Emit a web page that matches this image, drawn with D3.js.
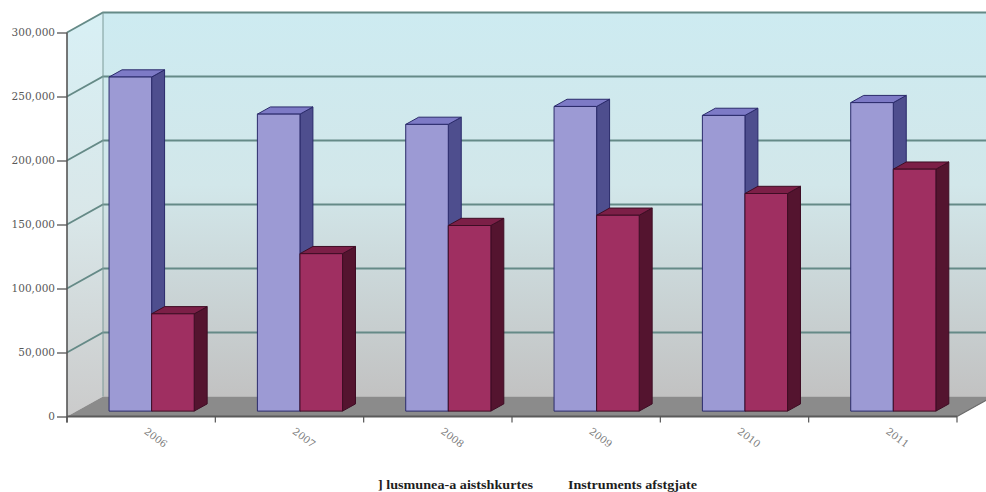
<!DOCTYPE html>
<html>
<head>
<meta charset="utf-8">
<script src="https://cdn.jsdelivr.net/npm/d3@7/dist/d3.min.js"></script>
<style>
  html, body { margin: 0; padding: 0; background: #ffffff; }
  svg { display: block; }
</style>
</head>
<body>
<svg id="chart" width="986" height="492"></svg>
<script>
// ---- data ----
const years = ["2006", "2007", "2008", "2009", "2010", "2011"];
const seriesNames = ["] lusmunea-a aistshkurtes", "Instruments afstgjate"];
const seriesA = [261000, 232000, 224000, 238000, 231000, 241000];
const seriesB = [76000, 123000, 145000, 153000, 170000, 189000];
const yTicks = [0, 50000, 100000, 150000, 200000, 250000, 300000];

// ---- layout ----
const svg = d3.select("#chart");
const plotLeft = 67, plotRight = 957, plotBottom = 416.5, plotTop = 32.5;
const depth = { dx: 36, dy: -20 };          // floor / wall depth offset
const barFront = 0.27, barBack = 0.63;        // bar depth band within the floor

const x0 = d3.scaleBand().domain(years).range([plotLeft, plotRight]).padding(0);
const bw = x0.bandwidth();
const x1 = d3.scaleBand().domain([0, 1]).range([bw * 0.218, bw * 0.792]).padding(0);
const y = d3.scaleLinear().domain([0, 300000]).range([plotBottom, plotTop]);

const defs = svg.append("defs");
const wallGrad = defs.append("linearGradient")
  .attr("id", "wallGrad").attr("x1", 0).attr("y1", 0).attr("x2", 0).attr("y2", 1);
wallGrad.append("stop").attr("offset", "0%").attr("stop-color", "#cdebf1");
wallGrad.append("stop").attr("offset", "45%").attr("stop-color", "#d2e7ea");
wallGrad.append("stop").attr("offset", "100%").attr("stop-color", "#c2c2c2");

const sideGrad = defs.append("linearGradient")
  .attr("id", "sideGrad").attr("x1", 0).attr("y1", 0).attr("x2", 0).attr("y2", 1);
sideGrad.append("stop").attr("offset", "0%").attr("stop-color", "#d8f0f5");
sideGrad.append("stop").attr("offset", "50%").attr("stop-color", "#d9e7e9");
sideGrad.append("stop").attr("offset", "100%").attr("stop-color", "#cbcbcb");

const pts = a => a.map(p => p.join(",")).join(" ");

// back wall
svg.append("polygon")
  .attr("points", pts([
    [plotLeft + depth.dx, y(300000) + depth.dy],
    [plotRight + depth.dx, y(300000) + depth.dy],
    [plotRight + depth.dx, y(0) + depth.dy],
    [plotLeft + depth.dx, y(0) + depth.dy]
  ]))
  .attr("fill", "url(#wallGrad)");

// side wall
svg.append("polygon")
  .attr("points", pts([
    [plotLeft, y(300000)],
    [plotLeft + depth.dx, y(300000) + depth.dy],
    [plotLeft + depth.dx, y(0) + depth.dy],
    [plotLeft, y(0)]
  ]))
  .attr("fill", "url(#sideGrad)");

// floor
svg.append("polygon")
  .attr("points", pts([
    [plotLeft, y(0)],
    [plotLeft + depth.dx, y(0) + depth.dy],
    [plotRight + depth.dx, y(0) + depth.dy],
    [plotRight, y(0)]
  ]))
  .attr("fill", "#8b8b8b");

// gridlines across side wall and back wall
svg.append("g").selectAll("polyline")
  .data(yTicks.filter(v => v > 0))
  .join("polyline")
  .attr("points", v => pts([
    [plotLeft, y(v)],
    [plotLeft + depth.dx, y(v) + depth.dy],
    [plotRight + depth.dx, y(v) + depth.dy]
  ]))
  .attr("fill", "none")
  .attr("stroke", "#658a87")
  .attr("stroke-width", 1.8);

// back wall left edge
svg.append("line")
  .attr("x1", plotLeft + depth.dx).attr("x2", plotLeft + depth.dx)
  .attr("y1", y(300000) + depth.dy).attr("y2", y(0) + depth.dy)
  .attr("stroke", "#7c9a98").attr("stroke-width", 1);

// ---- bars ----
const colors = [
  { front: "#9c9ad4", top: "#7d7ac6", side: "#4e4e8e", stroke: "#2a2a6a" },
  { front: "#9f2f61", top: "#7c1f47", side: "#54142f", stroke: "#3e0d24" }
];
const fdx = depth.dx * barFront, fdy = depth.dy * barFront;
const bdx = depth.dx * (barBack - barFront), bdy = depth.dy * (barBack - barFront);

const bars = [];
years.forEach((yr, i) => {
  [seriesA[i], seriesB[i]].forEach((v, s) => {
    bars.push({ year: yr, s, v });
  });
});

const barG = svg.append("g");
bars.forEach(d => {
  const c = colors[d.s];
  const xl = x0(d.year) + x1(d.s) + fdx;
  const xr = xl + x1.bandwidth();
  const yt = y(d.v) + fdy;
  const yb = y(0) + fdy;
  const g = barG.append("g").attr("stroke", c.stroke).attr("stroke-width", 1).attr("stroke-linejoin", "round");
  // side face
  g.append("polygon")
    .attr("points", pts([[xr, yt], [xr + bdx, yt + bdy], [xr + bdx, yb + bdy], [xr, yb]]))
    .attr("fill", c.side);
  // top face
  g.append("polygon")
    .attr("points", pts([[xl, yt], [xl + bdx, yt + bdy], [xr + bdx, yt + bdy], [xr, yt]]))
    .attr("fill", c.top);
  // front face
  g.append("rect")
    .attr("x", xl).attr("y", yt)
    .attr("width", xr - xl).attr("height", yb - yt)
    .attr("fill", c.front);
});

// ---- axes ----
const yAxis = d3.axisLeft(y)
  .tickValues(yTicks)
  .tickFormat(d3.format(","))
  .tickSize(10)
  .tickPadding(2);
const yg = svg.append("g").attr("transform", `translate(${plotLeft},0)`).call(yAxis);
yg.select(".domain").remove();
yg.selectAll(".tick line").attr("stroke", "#555").attr("stroke-width", 1.3);
yg.selectAll(".tick text")
  .attr("fill", "#595959")
  .style("font-family", "'DejaVu Serif', serif")
  .style("font-size", "10.5px");

// vertical axis line
svg.append("line")
  .attr("x1", plotLeft).attr("x2", plotLeft)
  .attr("y1", y(300000)).attr("y2", y(0) + 6)
  .attr("stroke", "#555").attr("stroke-width", 1.6);

// floor front edge and right edge
svg.append("line")
  .attr("x1", plotLeft).attr("x2", plotRight)
  .attr("y1", y(0)).attr("y2", y(0))
  .attr("stroke", "#5a5a5a").attr("stroke-width", 2);
svg.append("line")
  .attr("x1", plotRight).attr("x2", plotRight + depth.dx)
  .attr("y1", y(0)).attr("y2", y(0) + depth.dy)
  .attr("stroke", "#6a6a6a").attr("stroke-width", 1.2);

// category boundary ticks
const tickXs = years.map(d => x0(d)).concat([plotRight]);
svg.append("g").selectAll("line")
  .data(tickXs)
  .join("line")
  .attr("x1", d => d).attr("x2", d => d)
  .attr("y1", y(0)).attr("y2", y(0) + 6)
  .attr("stroke", "#555").attr("stroke-width", 1.2);

// category labels, slanted
svg.append("g").selectAll("text")
  .data(years)
  .join("text")
  .attr("transform", d => `translate(${x0(d) + bw / 2 + 14},${y(0) + 22}) rotate(37)`)
  .attr("text-anchor", "middle")
  .attr("dominant-baseline", "middle")
  .attr("fill", "#7a7a7a")
  .style("font-family", "'DejaVu Serif', serif")
  .style("font-size", "10px")
  .text(d => d);

// legend
const legendX = [378, 568], legendW = [155, 129];
svg.append("g").selectAll("text")
  .data(seriesNames)
  .join("text")
  .attr("x", (d, i) => legendX[i])
  .attr("y", 489)
  .attr("textLength", (d, i) => legendW[i])
  .attr("lengthAdjust", "spacingAndGlyphs")
  .attr("fill", "#1e1e1e")
  .style("font-family", "'Liberation Serif', serif")
  .style("font-weight", "bold")
  .style("font-size", "13px")
  .text(d => d);
</script>
</body>
</html>
